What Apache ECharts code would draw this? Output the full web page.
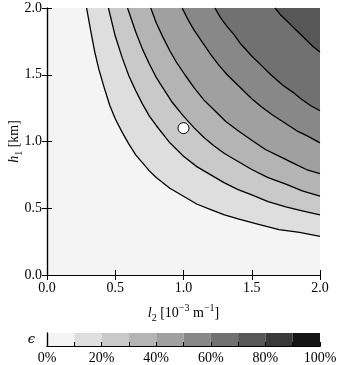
<!DOCTYPE html>
<html>
<head>
<meta charset="utf-8">
<script src="https://cdn.jsdelivr.net/npm/echarts@6/dist/echarts.min.js"></script>
<style>
    html, body { margin: 0; padding: 0; background: #fff; }
    #chart { width: 340px; height: 365px; }
</style>
</head>
<body>
<div id="chart"></div>
<script>
// contour lines of epsilon, points [l2, h1] (10% ... 70%)
var contour10 = [[0.29, 2.0], [0.32, 1.83], [0.35, 1.67], [0.38, 1.54], [0.42, 1.40], [0.46, 1.27], [0.50, 1.17], [0.55, 1.07], [0.60, 0.98], [0.65, 0.90], [0.70, 0.84], [0.75, 0.78], [0.80, 0.73], [0.90, 0.65], [1.00, 0.59], [1.10, 0.53], [1.20, 0.49], [1.30, 0.45], [1.40, 0.42], [1.55, 0.38], [1.70, 0.34], [1.85, 0.32], [2.0, 0.29]];
var contour20 = [[0.45, 2.0], [0.50, 1.79], [0.55, 1.63], [0.60, 1.49], [0.65, 1.38], [0.70, 1.28], [0.75, 1.19], [0.80, 1.12], [0.90, 0.99], [1.00, 0.89], [1.10, 0.81], [1.20, 0.75], [1.30, 0.69], [1.40, 0.64], [1.50, 0.60], [1.62, 0.55], [1.75, 0.51], [1.87, 0.48], [2.0, 0.45]];
var contour30 = [[0.59, 2.0], [0.65, 1.82], [0.70, 1.69], [0.75, 1.58], [0.80, 1.48], [0.85, 1.40], [0.92, 1.29], [1.00, 1.19], [1.08, 1.10], [1.15, 1.03], [1.22, 0.97], [1.30, 0.91], [1.40, 0.85], [1.50, 0.79], [1.62, 0.73], [1.75, 0.68], [1.87, 0.63], [2.0, 0.59]];
var contour40 = [[0.76, 2.0], [0.80, 1.89], [0.85, 1.78], [0.90, 1.68], [0.95, 1.59], [1.01, 1.50], [1.08, 1.40], [1.15, 1.31], [1.23, 1.23], [1.31, 1.15], [1.40, 1.08], [1.50, 1.01], [1.60, 0.94], [1.70, 0.89], [1.80, 0.84], [1.90, 0.79], [2.0, 0.76]];
var contour50 = [[0.99, 2.0], [1.04, 1.90], [1.08, 1.83], [1.14, 1.74], [1.20, 1.65], [1.26, 1.57], [1.32, 1.50], [1.41, 1.41], [1.50, 1.32], [1.57, 1.26], [1.65, 1.20], [1.74, 1.14], [1.83, 1.08], [1.91, 1.04], [2.0, 0.99]];
var contour60 = [[1.23, 2.0], [1.27, 1.93], [1.32, 1.86], [1.37, 1.80], [1.42, 1.73], [1.50, 1.64], [1.57, 1.57], [1.64, 1.50], [1.73, 1.42], [1.80, 1.37], [1.86, 1.32], [1.93, 1.27], [2.0, 1.23]];
var contour70 = [[1.67, 2.0], [1.71, 1.95], [1.75, 1.91], [1.79, 1.87], [1.83, 1.83], [1.87, 1.79], [1.91, 1.75], [1.95, 1.71], [2.0, 1.67]];
var contourLines = [contour10, contour20, contour30, contour40, contour50, contour60, contour70];
var levelNames = ['10%', '20%', '30%', '40%', '50%', '60%', '70%'];

// one grey per 10% band, 0-10% first
var bandColors = ['#f4f4f4', '#dedede', '#c9c9c9', '#b4b4b4', '#a0a0a0', '#888888', '#717171', '#575757', '#393939', '#141414'];
var colorbarEdges = [0, 10, 20, 30, 40, 50, 60, 70, 80, 90, 100];

var markerPoint = [[1.0, 1.1]];

var serif = 'Liberation Serif';
var chart = echarts.init(document.getElementById('chart'));

function frameAxis(gridIndex, position, min, max, interval) {
    return {
        type: 'value',
        gridIndex: gridIndex,
        position: position,
        min: min,
        max: max,
        interval: interval,
        z: 10,
        nameMoveOverlap: false,
        axisLine: { show: true, lineStyle: { color: '#000', width: 1.2 } },
        axisTick: { show: true, inside: true, length: 5, lineStyle: { color: '#000', width: 1 } },
        axisLabel: { show: false },
        splitLine: { show: false }
    };
}

var series = [];
contourLines.forEach(function (pts, i) {
    series.push({
        type: 'line',
        name: levelNames[i],
        xAxisIndex: 0,
        yAxisIndex: 0,
        data: pts,
        smooth: false,
        symbol: 'none',
        silent: true,
        lineStyle: { color: '#000', width: 1.3, join: 'round' },
        areaStyle: { origin: 'end', color: bandColors[i + 1], opacity: 1 }
    });
});

series.push({
    type: 'scatter',
    xAxisIndex: 0,
    yAxisIndex: 0,
    data: markerPoint,
    symbolSize: 11,
    z: 20,
    itemStyle: { color: '#fff', borderColor: '#000', borderWidth: 1, opacity: 1 }
});

// colorbar cells
series.push({
    type: 'custom',
    xAxisIndex: 2,
    yAxisIndex: 2,
    silent: true,
    data: colorbarEdges.slice(0, -1).map(function (v, i) {
        return [v, colorbarEdges[i + 1], i];
    }),
    renderItem: function (params, api) {
        var p0 = api.coord([api.value(0), 0]);
        var p1 = api.coord([api.value(1), 1]);
        return {
            type: 'rect',
            shape: { x: p0[0], y: p1[1], width: p1[0] - p0[0], height: p0[1] - p1[1] },
            style: { fill: bandColors[api.value(2)] }
        };
    }
});

var xBottom = frameAxis(0, 'bottom', 0, 2, 0.5);
xBottom.axisLabel = {
    show: true, margin: 6, color: '#000', fontFamily: serif, fontSize: 14,
    formatter: function (v) { return v.toFixed(1); }
};
xBottom.name = '{i|l}{sub|2} [10{sup|−3} m{sup|−1}]';
xBottom.nameLocation = 'middle';
xBottom.nameGap = 28;
xBottom.nameTextStyle = {
    color: '#000', fontFamily: serif, fontSize: 14, lineHeight: 20,
    rich: {
        i: { fontFamily: serif, fontStyle: 'italic', fontSize: 14, color: '#000' },
        sub: { fontFamily: serif, fontSize: 10, verticalAlign: 'bottom', color: '#000' },
        sup: { fontFamily: serif, fontSize: 10, verticalAlign: 'top', color: '#000' }
    }
};

var yLeft = frameAxis(0, 'left', 0, 2, 0.5);
yLeft.axisLabel = {
    show: true, margin: 5, color: '#000', fontFamily: serif, fontSize: 14,
    formatter: function (v) { return v.toFixed(1); }
};
yLeft.name = '{i|h}{sub|1} [km]';
yLeft.nameLocation = 'middle';
yLeft.nameGap = 23;
yLeft.nameTextStyle = {
    color: '#000', fontFamily: serif, fontSize: 14, lineHeight: 20,
    rich: {
        i: { fontFamily: serif, fontStyle: 'italic', fontSize: 14, color: '#000' },
        sub: { fontFamily: serif, fontSize: 10, verticalAlign: 'bottom', color: '#000' }
    }
};

var cbBottom = frameAxis(1, 'bottom', 0, 100, 10);
cbBottom.axisTick = { show: true, inside: true, length: 4, lineStyle: { color: '#000', width: 1 } };
cbBottom.axisLabel = {
    show: true, margin: 5, color: '#000', fontFamily: serif, fontSize: 14,
    formatter: function (v) { return v % 20 === 0 ? v + '%' : ''; }
};
var cbTop = frameAxis(1, 'top', 0, 100, 10);
cbTop.axisTick = { show: false };
var cbLeft = frameAxis(1, 'left', 0, 1, 1);
cbLeft.axisTick = { show: false };
cbLeft.name = 'ϵ';
cbLeft.nameLocation = 'middle';
cbLeft.nameRotate = 0;
cbLeft.nameGap = 12;
cbLeft.nameTextStyle = { color: '#000', fontFamily: 'DejaVu Serif', fontStyle: 'italic', fontSize: 13 };
var cbRight = frameAxis(1, 'right', 0, 1, 1);
cbRight.axisTick = { show: false };

var option = {
    animation: false,
    backgroundColor: '#fff',
    grid: [{
        left: 47, top: 8, width: 273, height: 267,
        outerBoundsMode: 'none',
        show: true, backgroundColor: bandColors[0], borderWidth: 0
    }, {
        left: 47, top: 333, width: 273, height: 13,
        outerBoundsMode: 'none',
        show: false
    }],
    xAxis: [xBottom, frameAxis(0, 'top', 0, 2, 0.5), cbBottom, cbTop],
    yAxis: [yLeft, frameAxis(0, 'right', 0, 2, 0.5), cbLeft, cbRight],
    series: series
};
// colorbar axes: xAxis 2/3 and yAxis 2/3 are on grid 1
chart.setOption(option);
</script>
</body>
</html>
